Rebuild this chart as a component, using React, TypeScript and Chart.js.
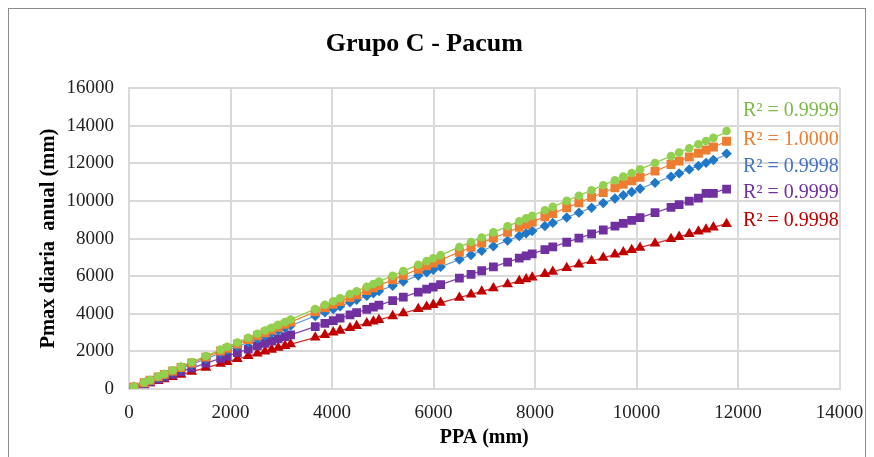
import React, { useEffect, useRef } from "react";
import { Chart, registerables } from "chart.js";

Chart.register(...registerables);

const ppa = [100, 300, 415, 575, 695, 860, 1025, 1235, 1515, 1805, 1935, 2135, 2350, 2530, 2680, 2810, 2940, 3075, 3185, 3670, 3860, 4025, 4160, 4355, 4485, 4685, 4815, 4925, 5195, 5405, 5700, 5865, 5995, 6140, 6510, 6740, 6950, 7180, 7460, 7690, 7825, 7945, 8195, 8350, 8625, 8865, 9115, 9345, 9575, 9740, 9905, 10070, 10365, 10680, 10840, 11040, 11220, 11370, 11515, 11775];

const serieVerde = [116, 348, 481, 667, 806, 998, 1189, 1433, 1757, 2094, 2245, 2477, 2726, 2935, 3109, 3260, 3410, 3567, 3695, 4257, 4478, 4669, 4826, 5052, 5203, 5435, 5585, 5713, 6026, 6270, 6612, 6803, 6954, 7122, 7552, 7818, 8062, 8329, 8654, 8920, 9077, 9216, 9506, 9686, 10005, 10283, 10573, 10840, 11107, 11298, 11490, 11681, 12023, 12389, 12574, 12806, 13015, 13189, 13357, 13720];
const serieNaranja = [112, 335, 464, 643, 777, 961, 1146, 1381, 1694, 2018, 2163, 2387, 2627, 2829, 2996, 3142, 3287, 3438, 3561, 4103, 4315, 4500, 4651, 4869, 5014, 5238, 5383, 5506, 5808, 6043, 6373, 6557, 6702, 6865, 7278, 7535, 7770, 8027, 8340, 8597, 8748, 8883, 9162, 9335, 9643, 9911, 10191, 10448, 10705, 10889, 11074, 11258, 11588, 11940, 12119, 12343, 12544, 12712, 12874, 13180];
const serieAzul = [106, 317, 439, 608, 735, 910, 1084, 1307, 1603, 1910, 2047, 2259, 2486, 2677, 2835, 2973, 3111, 3253, 3370, 3883, 4084, 4258, 4401, 4608, 4745, 4957, 5094, 5211, 5496, 5718, 6031, 6205, 6343, 6496, 6888, 7131, 7353, 7596, 7893, 8136, 8279, 8406, 8670, 8834, 9125, 9379, 9644, 9887, 10130, 10305, 10479, 10654, 10966, 11299, 11469, 11680, 11871, 12029, 12183, 12520];
const serieMorada = [91, 272, 376, 520, 629, 778, 928, 1118, 1371, 1634, 1751, 1932, 2127, 2290, 2425, 2543, 2661, 2783, 2882, 3321, 3493, 3643, 3765, 3941, 4059, 4240, 4358, 4457, 4701, 4892, 5159, 5308, 5425, 5557, 5892, 6100, 6290, 6498, 6751, 6959, 7082, 7190, 7416, 7557, 7806, 8023, 8249, 8457, 8665, 8815, 8964, 9113, 9380, 9665, 9810, 9991, 10154, 10400, 10410, 10630];
const serieRoja = [75, 224, 310, 430, 519, 642, 766, 923, 1132, 1348, 1445, 1595, 1755, 1890, 2002, 2099, 2196, 2297, 2379, 2741, 2883, 3007, 3108, 3253, 3350, 3500, 3597, 3679, 3881, 4038, 4258, 4381, 4478, 4587, 4863, 5035, 5192, 5363, 5573, 5744, 5845, 5935, 6122, 6237, 6443, 6622, 6809, 6981, 7153, 7276, 7399, 7522, 7743, 7978, 8097, 8247, 8381, 8493, 8602, 8780];

const xTicks = [0, 2000, 4000, 6000, 8000, 10000, 12000, 14000];
const yTicks = [0, 2000, 4000, 6000, 8000, 10000, 12000, 14000, 16000];

const r2Labels = ["R² = 0.9999", "R² = 1.0000", "R² = 0.9998", "R² = 0.9999", "R² = 0.9998"];
const r2LabelY = [14780, 13236, 11800, 10420, 8930];
const r2LabelX = 12100;

const SERIF = '"Liberation Serif", "Times New Roman", serif';

const seriesDef = [
  { data: serieVerde, color: "#92D050", line: "#92D050", text: "#7FB84A", style: "circle", radius: 4.3 },
  { data: serieNaranja, color: "#ED7D31", line: "#ED7D31", text: "#ED7D31", style: "rect", radius: 6.3 },
  { data: serieAzul, color: "#1F77C8", line: "#5B8FD5", text: "#4472C4", style: "rectRot", radius: 5.2 },
  { data: serieMorada, color: "#7030A0", line: "#7F45B0", text: "#7030A0", style: "rect", radius: 6.2 },
  { data: serieRoja, color: "#C00000", line: "#D03030", text: "#C00000", style: "triangle", radius: 6.2 },
];

function fit(xs: number[], ys: number[]) {
  const n = xs.length;
  let sx = 0, sy = 0, sxx = 0, sxy = 0;
  for (let i = 0; i < n; i++) {
    sx += xs[i]; sy += ys[i]; sxx += xs[i] * xs[i]; sxy += xs[i] * ys[i];
  }
  const m = (n * sxy - sx * sy) / (n * sxx - sx * sx);
  const b = (sy - m * sx) / n;
  return { m, b };
}

export default function App() {
  const ref = useRef<HTMLCanvasElement>(null);

  useEffect(() => {
    if (!ref.current) return;
    const xMin = Math.min(...ppa);
    const xMax = Math.max(...ppa);

    const markerSets = seriesDef.map((s, i) => ({
      type: "scatter" as const,
      label: "S" + i,
      data: ppa.map((x, k) => ({ x, y: s.data[k] })),
      pointStyle: s.style,
      pointRadius: s.radius,
      pointBackgroundColor: s.color,
      pointBorderColor: s.color,
      pointBorderWidth: 0,
      showLine: false,
      order: 0,
    }));
    const trendSets = seriesDef.map((s, i) => {
      const { m, b } = fit(ppa, s.data);
      return {
        type: "line" as const,
        label: "T" + i,
        data: [{ x: xMin, y: m * xMin + b }, { x: xMax, y: m * xMax + b }],
        borderColor: s.line,
        borderWidth: 1.2,
        pointRadius: 0,
        fill: false,
        order: 1,
      };
    });

    const r2Plugin = {
      id: "r2labels",
      afterDatasetsDraw(chart: any) {
        const { ctx, scales } = chart;
        ctx.save();
        ctx.font = `20px ${SERIF}`;
        ctx.textAlign = "left";
        ctx.textBaseline = "middle";
        seriesDef.forEach((s, i) => {
          ctx.fillStyle = s.text;
          ctx.fillText(r2Labels[i], scales.x.getPixelForValue(r2LabelX), scales.y.getPixelForValue(r2LabelY[i]));
        });
        ctx.restore();
      },
    };

    const chart = new Chart(ref.current, {
      type: "scatter",
      data: { datasets: [...markerSets, ...trendSets] as any },
      plugins: [r2Plugin],
      options: {
        animation: false,
        responsive: false,
        maintainAspectRatio: false,
        layout: { padding: { left: 0, right: 25.5, top: 0, bottom: 0 } },
        plugins: {
          legend: { display: false },
          tooltip: { enabled: false },
          title: {
            display: true,
            text: "Grupo C - Pacum",
            color: "#000",
            font: { family: SERIF, size: 26, weight: "bold" },
            padding: { top: 20, bottom: 28 },
          },
        },
        scales: {
          x: {
            type: "linear",
            min: 0,
            max: 14000,
            afterBuildTicks: (s: any) => { s.ticks = xTicks.map((v) => ({ value: v })); },
            afterFit: (s: any) => { s.height = 70; s.paddingLeft = 0; s.paddingRight = 0; },
            grid: { color: "#D9D9D9", lineWidth: 2, drawTicks: false },
            border: { color: "#D9D9D9", width: 2 },
            ticks: {
              color: "#222",
              font: { family: SERIF, size: 19 },
              padding: 13,
              maxRotation: 0,
              callback: (v: any) => String(v),
            },
            title: {
              display: true,
              text: "PPA (mm)",
              color: "#000",
              font: { family: SERIF, size: 20, weight: "bold" },
              padding: { top: 0, bottom: 9 },
            },
          },
          y: {
            type: "linear",
            min: 0,
            max: 16000,
            afterBuildTicks: (s: any) => { s.ticks = yTicks.map((v) => ({ value: v })); },
            afterFit: (s: any) => { s.width = 120; },
            grid: { color: "#D9D9D9", lineWidth: 2, drawTicks: false },
            border: { color: "#D9D9D9", width: 2 },
            ticks: {
              color: "#222",
              font: { family: SERIF, size: 19 },
              padding: 15,
              callback: (v: any) => String(v),
            },
            title: {
              display: true,
              text: "Pmax diaria  anual (mm)",
              color: "#000",
              font: { family: SERIF, size: 20.5, weight: "bold" },
              padding: { top: 27, bottom: 0 },
            },
          },
        },
      } as any,
    });
    return () => chart.destroy();
  }, []);

  return (
    <div
      style={{
        width: 858,
        height: 452,
        boxSizing: "border-box",
        border: "1px solid #8C8C8C",
        background: "#fff",
      }}
    >
      <canvas ref={ref} width={856} height={450} style={{ display: "block" }} />
    </div>
  );
}
